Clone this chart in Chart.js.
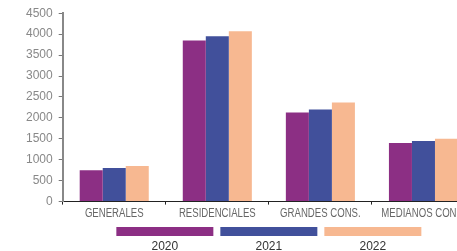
<!DOCTYPE html>
<html>
<head>
<meta charset="utf-8">
<script src="https://cdn.jsdelivr.net/npm/chart.js@4"></script>
<style>
  html, body { margin: 0; padding: 0; background: #fff; overflow: hidden; }
  #wrap { position: relative; width: 480px; height: 251px; }
</style>
</head>
<body>
<div id="wrap"><canvas id="chart"></canvas></div>
<script>
const categories = ["GENERALES", "RESIDENCIALES", "GRANDES CONS.", "MEDIANOS CONS."];
const years = ["2020", "2021", "2022"];
const values2020 = [750, 3850, 2130, 1400];
const values2021 = [800, 3950, 2200, 1450];
const values2022 = [850, 4070, 2370, 1500];
const yTicks = [0, 500, 1000, 1500, 2000, 2500, 3000, 3500, 4000, 4500];
const colors = ["#8C2F84", "#41509B", "#F7B891"];

// x labels in a narrow face: squeeze a normal sans horizontally
const narrowLabels = {
  id: "narrowLabels",
  afterDraw(chart) {
    const ctx = chart.ctx;
    const xs = chart.scales.x;
    ctx.save();
    ctx.font = "12px 'Liberation Sans', Arial, sans-serif";
    ctx.fillStyle = "#666";
    ctx.textAlign = "center";
    ctx.textBaseline = "middle";
    chart.data.labels.forEach((lab, i) => {
      const px = xs.getPixelForTick(i);
      ctx.save();
      ctx.translate(px, xs.bottom - 7);
      ctx.scale(0.8, 1);
      ctx.fillText(lab, 0, 0);
      ctx.restore();
    });
    ctx.restore();
  }
};

// legend drawn under the chart: long bars with the year below them
const bottomLegend = {
  id: "bottomLegend",
  afterDraw(chart) {
    const ctx = chart.ctx;
    const area = chart.chartArea;
    const boxW = 97, boxH = 9, gap = 7;
    const n = chart.data.datasets.length;
    let x = (area.left + area.right) / 2 - (n * boxW + (n - 1) * gap) / 2;
    ctx.save();
    chart.data.datasets.forEach(ds => {
      ctx.fillStyle = ds.backgroundColor;
      ctx.fillRect(x, 227, boxW, boxH);
      ctx.fillStyle = "#333";
      ctx.font = "12px 'Liberation Sans', Arial, sans-serif";
      ctx.textAlign = "center";
      ctx.textBaseline = "middle";
      ctx.fillText(ds.label, x + boxW / 2, 247);
      x += boxW + gap;
    });
    ctx.restore();
  }
};

new Chart(document.getElementById("chart"), {
  type: "bar",
  data: {
    labels: categories,
    datasets: [
      { label: years[0], data: values2020, backgroundColor: colors[0] },
      { label: years[1], data: values2021, backgroundColor: colors[1] },
      { label: years[2], data: values2022, backgroundColor: colors[2] }
    ]
  },
  options: {
    responsive: true,
    maintainAspectRatio: false,
    animation: false,
    layout: { padding: { left: 20, top: 11, right: 5, bottom: 30 } },
    plugins: {
      legend: { display: false },
      tooltip: { enabled: false }
    },
    datasets: {
      bar: { categoryPercentage: 0.67, barPercentage: 1 }
    },
    scales: {
      x: {
        grid: { drawOnChartArea: false, tickLength: 3, color: "#222", lineWidth: 1 },
        border: { color: "#222", width: 1 },
        ticks: {
          color: "rgba(0,0,0,0)",
          padding: 1,
          maxRotation: 0,
          autoSkip: false,
          font: { family: "'Liberation Sans', Arial, sans-serif", size: 12 },
          callback: () => "GENERALES"
        }
      },
      y: {
        min: 0,
        max: 4500,
        afterBuildTicks(axis) { axis.ticks = yTicks.map(v => ({ value: v })); },
        grid: { drawOnChartArea: false, tickLength: 4, color: "#777" },
        border: { color: "#888", width: 2 },
        ticks: {
          color: "#888",
          padding: 6,
          font: { family: "'Liberation Sans', Arial, sans-serif", size: 12 },
          callback: v => String(v)
        }
      }
    }
  },
  plugins: [narrowLabels, bottomLegend]
});
</script>
</body>
</html>
